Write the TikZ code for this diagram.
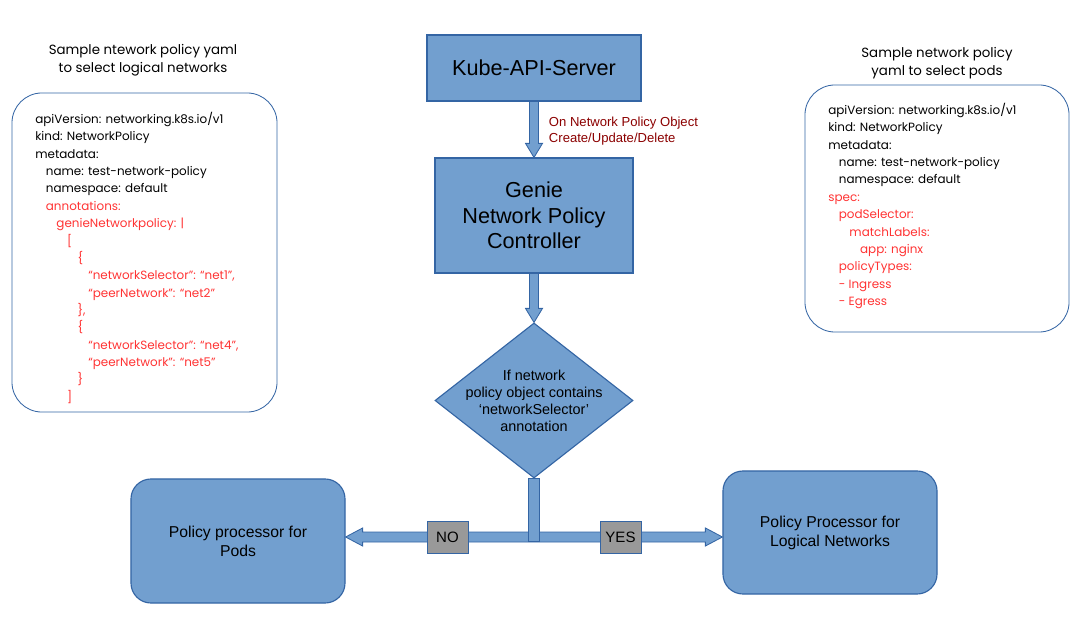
\documentclass[tikz,border=0pt]{standalone}
\usepackage{fontspec}
\setmainfont{Liberation Sans}
\newfontfamily\yamlfont{Poppins}
\usetikzlibrary{shapes.geometric,calc,positioning}
\definecolor{boxfill}{HTML}{729FCF}
\definecolor{boxline}{HTML}{3465A4}
\definecolor{yamlred}{HTML}{FF3333}
\definecolor{notered}{HTML}{8B0000}
\definecolor{taggray}{HTML}{999999}
\newlength\yamlstep
\setlength\yamlstep{2.65mm}
\newcommand{\yind}[1]{\hspace*{#1\yamlstep}}
\newcommand{\yred}[1]{\textcolor{yamlred}{#1}}
% fat arrow going down from #1 to #2
\newcommand{\blockdown}[2]{%
  \draw[flow] ($(#1)+(-4.5,0)$) -- ($(#2)+(-4.5,-14)$) -- ($(#2)+(-8.5,-14)$) -- (#2)
    -- ($(#2)+(8.5,-14)$) -- ($(#2)+(4.5,-14)$) -- ($(#1)+(4.5,0)$) -- cycle;}
\begin{document}
\begin{tikzpicture}[x=0.025cm, y=-0.025cm,
        block/.style={rectangle, draw=boxline, fill=boxfill, line width=0.8pt, align=center},
        round block/.style={block, rounded corners=0.5cm, minimum width=5.35cm,
            font=\fontsize{11.2}{13.5}\selectfont},
        decision/.style={diamond, draw=boxline, fill=boxfill, line width=0.8pt, inner sep=0pt,
            minimum width=4.95cm, minimum height=3.875cm},
        tag/.style={rectangle, draw=boxline, fill=taggray, line width=0.6pt,
            minimum width=1.025cm, minimum height=0.8cm, font=\fontsize{10.7}{12}\selectfont},
        yaml box/.style={rectangle, draw=boxline, line width=0.6pt, rounded corners=0.75cm},
        yaml/.style={font=\yamlfont\fontsize{8.5}{12.34}\selectfont, align=left,
            anchor=north west, inner sep=0pt},
        title/.style={font=\yamlfont\fontsize{9.5}{13}\selectfont, align=center},
        flow/.style={draw=boxline, fill=boxfill, line width=0.6pt}]
    \useasboundingbox (0,0) rectangle (1085,642);

    % left yaml sample
    \node[title] (ltitle) at (143,60.5) {Sample ntework policy yaml\\to select logical networks};
    \node[yaml box, minimum width=6.625cm, minimum height=7.975cm] (lbox) at (144.5,252.5) {};
    \node[yaml] (ltext) at (35,112) {apiVersion: networking.k8s.io/v1\\
        kind: NetworkPolicy\\
        metadata:\\
        \yind{1}name: test-network-policy\\
        \yind{1}namespace: default\\
        \yred{\yind{1}annotations:}\\
        \yred{\yind{2}genieNetworkpolicy: |}\\
        \yred{\yind{3}[}\\
        \yred{\yind{4}\{}\\
        \yred{\yind{5}“networkSelector”: “net1”,}\\
        \yred{\yind{5}“peerNetwork”: “net2”}\\
        \yred{\yind{4}\},}\\
        \yred{\yind{4}\{}\\
        \yred{\yind{5}“networkSelector”: “net4”,}\\
        \yred{\yind{5}“peerNetwork”: “net5”}\\
        \yred{\yind{4}\}}\\
        \yred{\yind{3}]}};

    % right yaml sample
    \node[title] (rtitle) at (937,63.5) {Sample network policy\\yaml to select pods};
    \node[yaml box, minimum width=6.6cm, minimum height=6.175cm] (rbox) at (937,208.5) {};
    \node[yaml] (rtext) at (828,103) {apiVersion: networking.k8s.io/v1\\
        kind: NetworkPolicy\\
        metadata:\\
        \yind{1}name: test-network-policy\\
        \yind{1}namespace: default\\
        \yred{spec:}\\
        \yred{\yind{1}podSelector:}\\
        \yred{\yind{2}matchLabels:}\\
        \yred{\yind{3}app: nginx}\\
        \yred{\yind{1}policyTypes:}\\
        \yred{\yind{1}- Ingress}\\
        \yred{\yind{1}- Egress}};

    % flow
    \node[block, minimum width=5.35cm, minimum height=1.65cm, font=\fontsize{15.4}{18}\selectfont]
        (kube) at (534,68) {Kube-API-Server};
    \node[block, minimum width=4.95cm, minimum height=2.875cm, font=\fontsize{15.4}{18.1}\selectfont]
        (ctrl) at (534,215.5) {Genie\\Network Policy\\Controller};
    \node[decision] (decide) at (534,400.5) {};
    \node[align=center, font=\fontsize{10.25}{12.1}\selectfont] (decidetext) at (decide.center)
        {If network\\policy object contains\\‘networkSelector’\\annotation};
    \node[round block, minimum height=3.1cm] (pods) at (238,541) {Policy processor for\\Pods};
    \node[round block, minimum height=3.075cm] (logic) at (830,532.5) {Policy Processor for\\Logical Networks};

    \blockdown{kube.south}{ctrl.north}
    \node[text=notered, align=left, anchor=west, font=\fontsize{9.3}{11.7}\selectfont]
        (event) at (544,131) {On Network Policy Object\\Create/Update/Delete};
    \blockdown{ctrl.south}{decide.north}

    \coordinate (split) at (534,537);
    \coordinate (ltip) at (pods.east |- split);
    \coordinate (rtip) at (logic.west |- split);
    \draw[flow] (ltip) -- ($(ltip)+(17,-9)$) -- ($(ltip)+(17,-5)$) -- ($(rtip)+(-17,-5)$)
        -- ($(rtip)+(-17,-9)$) -- (rtip) -- ($(rtip)+(-17,9)$) -- ($(rtip)+(-17,5)$)
        -- ($(ltip)+(17,5)$) -- ($(ltip)+(17,9)$) -- cycle;
    \draw[flow] ($(decide.south)+(-5.5,0)$) rectangle ($(split)+(5.5,4)$);
    \node[tag] (no) at (447.5,537) {NO};
    \node[tag] (yes) at (620.5,537) {YES};
\end{tikzpicture}
\end{document}
